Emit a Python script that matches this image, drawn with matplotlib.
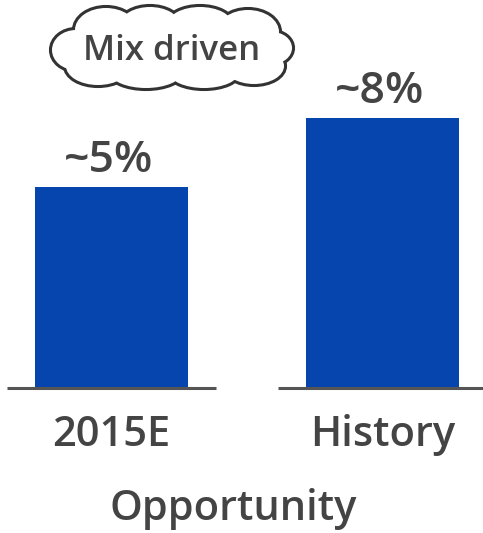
import numpy as np
import matplotlib
matplotlib.use('Agg')
import matplotlib.pyplot as plt
from matplotlib.patches import Ellipse

# ── Data ────────────────────────────────────────────────────
categories = ['2015E', 'History']
values = [5, 8]
value_labels = ['~5%', '~8%']
xlabel = 'Opportunity'
callout = 'Mix driven'

BAR_COLOR = '#0645AD'
TEXT_COLOR = '#444444'
LINE_COLOR = '#555555'

plt.rcParams['font.family'] = ['Open Sans', 'DejaVu Sans']

W, H = 483, 533
fig = plt.figure(figsize=(W / 100, H / 100), dpi=100)

# axes: baseline at y=388px, top of figure at y=0
base_px = 388
px_per_unit = 23.0
base = 5 - (base_px - 187) / px_per_unit
top = base + base_px / px_per_unit
ax = fig.add_axes([0, (H - base_px) / H, 1, base_px / H])
ax.set_xlim(-111.5 / 271, (W - 111.5) / 271)
ax.set_ylim(base, top)

x = np.arange(len(categories))
heights = np.array(values) - base
ax.bar(x, heights, bottom=base, width=0.565, color=BAR_COLOR, zorder=2)
ax.hlines([base] * len(x), x - 0.385, x + 0.385, color=LINE_COLOR,
          linewidth=2.2, zorder=3, clip_on=False)

for xi, v, lab in zip(x, values, value_labels):
    ax.annotate(lab, (xi, v), xytext=(-2, 10.5), textcoords='offset points',
                ha='center', va='baseline', fontsize=32, fontweight='semibold',
                color=TEXT_COLOR)

for s in ax.spines.values():
    s.set_visible(False)
ax.set_yticks([])
ax.set_xticks(x)
ax.set_xticklabels(categories, fontsize=30, fontweight='semibold', color=TEXT_COLOR)
ax.tick_params(axis='x', length=0, pad=19)

fig.text(233 / W, 1 - 520 / H, xlabel, ha='center', va='baseline',
         fontsize=30, fontweight='semibold', color=TEXT_COLOR)

# ── Cloud callout ───────────────────────────────────────────
cax = fig.add_axes([0, 0, 1, 1], facecolor='none')
cax.set_xlim(0, W)
cax.set_ylim(H, 0)
cax.axis('off')
bumps = [(76, 50, 48, 40), (106, 30, 62, 44), (150, 24, 58, 34),
         (200, 24, 64, 34), (248, 32, 62, 44), (272, 48, 40, 32),
         (254, 66, 60, 36), (204, 72, 70, 32), (146, 72, 72, 32),
         (98, 66, 64, 38)]
for cx, cy, w, h in bumps:
    cax.add_patch(Ellipse((cx, cy), w, h, facecolor='white',
                          edgecolor='#333333', linewidth=4.4, zorder=1))
for cx, cy, w, h in bumps:
    cax.add_patch(Ellipse((cx, cy), w, h, facecolor='white',
                          edgecolor='none', zorder=2))
# fill the middle of the cloud
cax.add_patch(Ellipse((175, 48), 190, 50, facecolor='white',
                      edgecolor='none', zorder=2))
cax.text(172, 60, callout, ha='center', va='baseline', fontsize=25,
         fontweight='semibold', color=TEXT_COLOR, zorder=3)

fig.savefig('out.png', dpi=100)
